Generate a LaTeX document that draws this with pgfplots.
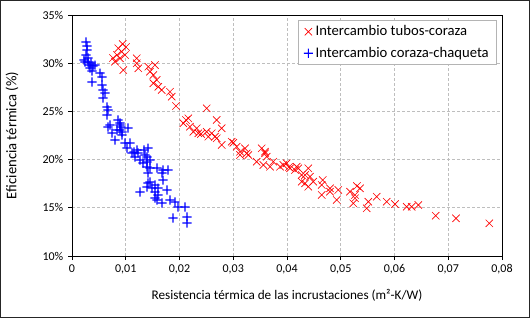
\documentclass[border=0pt]{standalone}
\usepackage{fontspec}
\setmainfont{Carlito}
\usepackage{pgfplots}
\pgfplotsset{compat=1.18}
\definecolor{gridgray}{RGB}{190,190,190}
\definecolor{leggray}{RGB}{180,180,180}
\pgfdeclareplotmark{rx}{%
  \pgfsetstrokecolor{red}\pgfsetlinewidth{0.5pt}%
  \pgfpathmoveto{\pgfqpoint{-0.707\pgfplotmarksize}{-0.707\pgfplotmarksize}}%
  \pgfpathlineto{\pgfqpoint{0.707\pgfplotmarksize}{0.707\pgfplotmarksize}}%
  \pgfpathmoveto{\pgfqpoint{-0.707\pgfplotmarksize}{0.707\pgfplotmarksize}}%
  \pgfpathlineto{\pgfqpoint{0.707\pgfplotmarksize}{-0.707\pgfplotmarksize}}%
  \pgfusepathqstroke}
\pgfdeclareplotmark{bplus}{%
  \pgfsetfillcolor{blue}%
  \pgfpathrectanglecorners{\pgfqpoint{-\pgfplotmarksize}{-0.45pt}}{\pgfqpoint{\pgfplotmarksize}{0.45pt}}%
  \pgfpathrectanglecorners{\pgfqpoint{-0.45pt}{-\pgfplotmarksize}}{\pgfqpoint{0.45pt}{-0.45pt}}%
  \pgfpathrectanglecorners{\pgfqpoint{-0.45pt}{0.45pt}}{\pgfqpoint{0.45pt}{\pgfplotmarksize}}%
  \pgfusepathqfill}
\begin{document}
\begin{tikzpicture}
\path[use as bounding box] (0,0) rectangle (397.5pt,238.5pt);
\draw[black!85, line width=0.75pt] (0.375pt,0.375pt) rectangle (397.125pt,238.125pt);
\begin{axis}[
  at={(54pt,46.5pt)}, anchor=south west,
  scale only axis, width=322.5pt, height=180.75pt,
  xmin=0, xmax=0.08, ymin=10, ymax=35,
  xtick={0,0.01,...,0.08}, ytick={10,15,...,35},
  scaled x ticks=false,
  xticklabel style={/pgf/number format/.cd, fixed, precision=2, use comma, assume math mode=true},
  yticklabel={\pgfmathprintnumber[assume math mode=true]{\tick}\%},
  tick label style={font=\fontsize{9}{10}\selectfont, black},
  xlabel={Resistencia térmica de las incrustaciones (m²-K/W)},
  ylabel={Eficiencia térmica (\%)},
  xlabel style={font=\fontsize{9.9}{11}\selectfont, at={(axis description cs:0.5,-0.162)}, anchor=center},
  ylabel style={font=\fontsize{11}{12}\selectfont, at={(axis description cs:-0.1395,0.5)}, anchor=center},
  axis line style={black, line width=0.75pt},
  grid=major,
  major grid style={gridgray, line width=0.75pt, dash pattern=on 2.25pt off 1.5pt},
  tick align=outside, xtick pos=bottom, ytick pos=left,
  major tick length=3pt, tick style={black, line width=0.75pt},
  legend style={at={(0.989,0.980)}, anchor=north east, draw=leggray, line width=0.75pt,
    font=\fontsize{11}{12}\selectfont, inner xsep=4pt, inner ysep=2pt, row sep=3pt},
  legend cell align=left,
]
\addplot[only marks, mark=rx, mark size=3.9pt, red] coordinates {
(0.00943,31.99) (0.00861,31.55) (0.00925,31.19) (0.00986,30.85) (0.00800,30.16)
(0.00893,30.51) (0.00954,29.29) (0.00837,30.85) (0.01005,31.68) (0.00763,30.54)
(0.01204,30.51) (0.01204,29.99) (0.01234,29.47) (0.01420,29.64) (0.01544,29.81)
(0.01451,29.12) (0.01513,28.78) (0.01576,28.26) (0.01513,27.92) (0.01606,27.56)
(0.01669,27.22) (0.01823,27.04) (0.01855,26.53) (0.01935,25.56) (0.02506,25.32)
(0.02692,24.11) (0.02785,23.25) (0.02121,24.11) (0.02164,24.28) (0.02071,23.77)
(0.02195,23.41) (0.02320,23.25) (0.02257,22.89) (0.02350,22.73) (0.02400,22.66)
(0.02506,22.89) (0.02599,22.73) (0.02660,22.38) (0.02536,22.38) (0.02692,22.21)
(0.02785,21.52) (0.02971,21.86) (0.03064,21.34) (0.03001,21.75) (0.03219,21.17)
(0.03250,20.65) (0.03126,20.82) (0.03126,20.48) (0.03280,20.48) (0.03529,21.17)
(0.03591,20.82) (0.03591,20.65) (0.03622,20.30) (0.03436,19.78) (0.03559,19.44)
(0.03745,19.78) (0.03684,19.26) (0.03870,19.26) (0.03994,19.62) (0.03931,19.44)
(0.04056,19.10) (0.04037,19.23) (0.04149,18.92) (0.04210,19.10) (0.04180,19.26)
(0.04396,19.10) (0.04335,18.40) (0.04273,18.40) (0.04428,18.23) (0.04273,17.71)
(0.04335,17.54) (0.04396,17.19) (0.04489,17.71) (0.04664,17.88) (0.04646,17.37)
(0.04646,16.33) (0.04800,17.02) (0.04800,16.67) (0.04954,16.85) (0.04925,15.81)
(0.05172,16.67) (0.05358,17.02) (0.05302,17.26) (0.05265,15.99) (0.05265,16.33)
(0.05233,15.47) (0.05513,15.63) (0.05483,14.95) (0.05669,16.15) (0.05855,15.63)
(0.06009,15.39) (0.06227,15.11) (0.06320,15.11) (0.06443,15.29) (0.06767,14.18)
(0.07144,13.91) (0.07764,13.39)
};
\addlegendentry{Intercambio tubos-coraza}
\addplot[only marks, mark=bplus, mark size=3.4pt, blue, fill=blue] coordinates {
(0.00260,32.20) (0.00279,31.78) (0.00279,31.37) (0.00260,30.85) (0.00298,30.54)
(0.00242,30.12) (0.00298,30.12) (0.00353,30.02) (0.00428,29.81) (0.00335,29.50)
(0.00372,29.19) (0.00372,28.05) (0.00521,28.98) (0.00558,28.57) (0.00558,27.74)
(0.00577,27.22) (0.00614,26.91) (0.00577,26.39) (0.00651,25.46) (0.00670,25.15)
(0.00651,24.63) (0.00707,23.59) (0.00744,22.76) (0.00856,24.11) (0.00893,23.59)
(0.00893,23.07) (0.00930,22.55) (0.01042,23.28) (0.00837,23.07) (0.00670,23.38)
(0.00800,22.03) (0.00893,23.80) (0.00930,22.86) (0.00986,21.72) (0.01079,21.72)
(0.01023,21.20) (0.01116,20.69) (0.01209,21.00) (0.01228,20.69) (0.01172,20.27)
(0.01414,21.20) (0.01395,20.27) (0.01265,19.96) (0.01321,19.65) (0.01395,19.75)
(0.01451,19.96) (0.01395,19.23) (0.01451,19.13) (0.01414,18.61) (0.01581,19.13)
(0.01693,18.92) (0.01786,18.92) (0.01674,18.61) (0.01693,17.88) (0.01414,17.57)
(0.01395,17.16) (0.01451,17.68) (0.01488,17.05) (0.01544,17.37) (0.01600,17.05)
(0.01265,16.64) (0.01544,16.64) (0.01600,16.33) (0.01544,16.02) (0.01581,15.81)
(0.01674,15.50) (0.01767,16.85) (0.01823,15.81) (0.01916,15.60) (0.01972,15.08)
(0.02102,15.08) (0.01879,13.94) (0.02140,14.05) (0.02140,13.42) (0.00316,29.81)
(0.00223,30.33) (0.00391,29.71) (0.00912,23.38) (0.01153,20.79) (0.01358,20.48)
(0.01340,21.00)
};
\addlegendentry{Intercambio coraza-chaqueta}
\end{axis}
\end{tikzpicture}
\end{document}
